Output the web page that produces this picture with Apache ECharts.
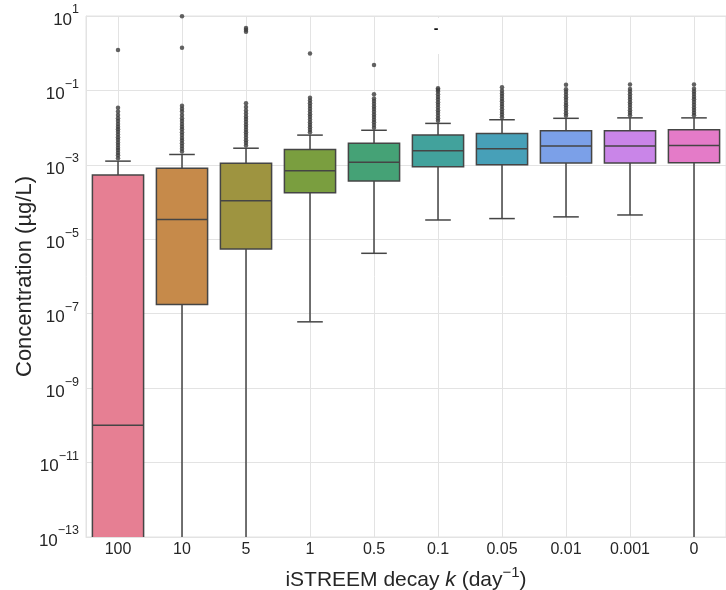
<!DOCTYPE html>
<html>
<head>
<meta charset="utf-8">
<script src="https://cdn.jsdelivr.net/npm/echarts@6/dist/echarts.min.js"></script>
<style>
  html, body { margin: 0; padding: 0; background: #fff; }
  #chart { width: 726px; height: 590px; }
</style>
</head>
<body>
<div id="chart"></div>
<script>
// Decay-rate scenarios (day^-1)
const categories = ['100', '10', '5', '1', '0.5', '0.1', '0.05', '0.01', '0.001', '0'];

// Box statistics per scenario, concentration in µg/L (values below 1e-13 run off the axis)
const whiskerLow  = [1e-16, 1e-16, 1e-16, 6.05e-8, 4.2e-6, 3.3e-5, 3.6e-5, 4.0e-5, 4.5e-5, 1e-16];
const quartile1   = [1e-15, 1.78e-7, 5.5e-6, 1.78e-4, 3.7e-4, 8.9e-4, 1.0e-3, 1.12e-3, 1.12e-3, 1.14e-3];
const medians     = [1e-10, 3.4e-5, 1.08e-4, 6.9e-4, 1.17e-3, 2.4e-3, 2.7e-3, 3.2e-3, 3.2e-3, 3.3e-3];
const quartile3   = [5.3e-4, 8.1e-4, 1.1e-3, 2.6e-3, 3.8e-3, 6.3e-3, 7.0e-3, 8.3e-3, 8.3e-3, 8.8e-3];
const whiskerHigh = [1.26e-3, 1.9e-3, 2.8e-3, 6.3e-3, 8.5e-3, 0.013, 0.0163, 0.0178, 0.0183, 0.0183];

// Outlying samples above the upper whisker
const outliers100  = [0.0015, 0.0018, 0.0021, 0.0025, 0.0029, 0.0034, 0.004, 0.0047, 0.0055, 0.0065, 0.0077, 0.009, 0.0105, 0.0125, 0.015, 0.018, 0.022, 0.027, 0.034, 1.22];
const outliers10   = [0.0023, 0.0027, 0.0032, 0.0038, 0.0045, 0.0053, 0.0063, 0.0075, 0.009, 0.0105, 0.0125, 0.015, 0.018, 0.022, 0.027, 0.032, 0.039, 1.4, 9.8];
const outliers5    = [0.0033, 0.0039, 0.0046, 0.0054, 0.0064, 0.0075, 0.0088, 0.0104, 0.0122, 0.0144, 0.017, 0.02, 0.024, 0.029, 0.036, 0.045, 3.8, 4.3, 4.75];
const outliers1    = [0.0075, 0.0088, 0.0103, 0.012, 0.014, 0.0165, 0.0195, 0.023, 0.027, 0.032, 0.038, 0.045, 0.054, 0.064, 0.99];
const outliers05   = [0.01, 0.0118, 0.0139, 0.0164, 0.0193, 0.0227, 0.0268, 0.0316, 0.0372, 0.044, 0.052, 0.061, 0.0785, 0.48];
const outliers01   = [0.0153, 0.018, 0.0212, 0.025, 0.0295, 0.0348, 0.041, 0.048, 0.057, 0.067, 0.079, 0.093, 0.105, 0.114];
const outliers005  = [0.019, 0.0225, 0.0265, 0.031, 0.037, 0.043, 0.051, 0.06, 0.071, 0.083, 0.098, 0.121];
const outliers001  = [0.021, 0.0245, 0.029, 0.034, 0.04, 0.047, 0.056, 0.066, 0.078, 0.092, 0.108, 0.142];
const outliers0001 = [0.0215, 0.025, 0.0295, 0.035, 0.041, 0.048, 0.057, 0.067, 0.079, 0.093, 0.11, 0.145];
const outliers0    = [0.0215, 0.0253, 0.0298, 0.035, 0.041, 0.049, 0.058, 0.068, 0.08, 0.094, 0.111, 0.145];

const boxColors = ['#e67f93', '#c68a4a', '#9e9440', '#7a9e3f', '#45a276',
                   '#42a29c', '#47a0b8', '#7ba0e8', '#c985e8', '#e47bc8'];

const outlierGroups = [outliers100, outliers10, outliers5, outliers1, outliers05,
                       outliers01, outliers005, outliers001, outliers0001, outliers0];

const FONT = '"Liberation Sans", Arial, sans-serif';
const EDGE = '#454545';
const GRID = '#e3e3e3';
const INK = '#262626';

const boxData = categories.map((c, i) =>
  [i, whiskerLow[i], quartile1[i], medians[i], quartile3[i], whiskerHigh[i]]);

const outlierData = [];
outlierGroups.forEach((arr, i) => arr.forEach(v => outlierData.push([i, v])));

function renderBox(params, api) {
  const i = api.value(0);
  const band = api.size([1, 0])[0];
  const boxW = band * 0.8;
  const capW = boxW * 0.5;
  const x = api.coord([i, 1])[0];
  const yLow = api.coord([i, api.value(1)])[1];
  const yQ1 = api.coord([i, api.value(2)])[1];
  const yMed = api.coord([i, api.value(3)])[1];
  const yQ3 = api.coord([i, api.value(4)])[1];
  const yHigh = api.coord([i, api.value(5)])[1];
  const lineStyle = { stroke: EDGE, lineWidth: 1.5, fill: null };
  return {
    type: 'group',
    children: [
      { type: 'line', shape: { x1: x, y1: yQ1, x2: x, y2: yLow }, style: lineStyle },
      { type: 'line', shape: { x1: x, y1: yQ3, x2: x, y2: yHigh }, style: lineStyle },
      { type: 'line', shape: { x1: x - capW / 2, y1: yLow, x2: x + capW / 2, y2: yLow }, style: lineStyle },
      { type: 'line', shape: { x1: x - capW / 2, y1: yHigh, x2: x + capW / 2, y2: yHigh }, style: lineStyle },
      { type: 'rect', shape: { x: x - boxW / 2, y: yQ3, width: boxW, height: yQ1 - yQ3 },
        style: { fill: boxColors[i], stroke: EDGE, lineWidth: 1.5 } },
      { type: 'line', shape: { x1: x - boxW / 2, y1: yMed, x2: x + boxW / 2, y2: yMed }, style: lineStyle }
    ]
  };
}

const chart = echarts.init(document.getElementById('chart'), null, { renderer: 'canvas' });

chart.setOption({
  animation: false,
  backgroundColor: '#ffffff',
  textStyle: { fontFamily: FONT },
  grid: {
    left: 86, top: 16, right: 0, bottom: 53,
    containLabel: false, outerBoundsMode: 'none',
    show: true, borderColor: GRID, borderWidth: 1
  },
  xAxis: {
    type: 'category',
    data: categories,
    boundaryGap: true,
    axisLine: { show: true, lineStyle: { color: GRID, width: 1 } },
    axisTick: { show: false },
    splitLine: { show: false },
    axisLabel: { fontFamily: FONT, fontSize: 16, color: INK, margin: 5 },
    name: '{n|iSTREEM decay }{i|k}{n| (day}{s|−1}{n|)}',
    nameLocation: 'middle',
    nameGap: 28,
    nameMoveOverlap: false,
    nameTextStyle: {
      rich: {
        n: { fontFamily: FONT, fontSize: 21, color: INK, verticalAlign: 'bottom', lineHeight: 26 },
        i: { fontFamily: FONT, fontSize: 21, fontStyle: 'italic', color: INK, verticalAlign: 'bottom', lineHeight: 26 },
        s: { fontFamily: FONT, fontSize: 15, color: INK, verticalAlign: 'top', lineHeight: 15 }
      }
    }
  },
  yAxis: {
    type: 'log',
    logBase: 10,
    min: 1e-13,
    max: 10,
    interval: 2,
    axisLine: { show: true, lineStyle: { color: GRID, width: 1 } },
    axisTick: { show: false },
    splitLine: { show: true, lineStyle: { color: GRID, width: 1 } },
    axisLabel: {
      margin: 7,
      formatter: function (v) {
        const e = Math.round(Math.log10(v));
        return '{b|10}{e|' + (e < 0 ? '−' + (-e) : String(e)) + '}';
      },
      rich: {
        b: { fontFamily: FONT, fontSize: 17, color: INK, verticalAlign: 'bottom', lineHeight: 25 },
        e: { fontFamily: FONT, fontSize: 12.5, color: INK, verticalAlign: 'top', lineHeight: 13 }
      }
    },
    name: 'Concentration (µg/L)',
    nameLocation: 'middle',
    nameRotate: 90,
    nameGap: 50,
    nameMoveOverlap: false,
    nameTextStyle: { fontFamily: FONT, fontSize: 22, color: INK }
  },
  series: [
    {
      // vertical grid lines at each scenario
      type: 'line',
      data: [],
      z: 1,
      silent: true,
      markLine: {
        z: 1,
        silent: true,
        symbol: ['none', 'none'],
        label: { show: false },
        lineStyle: { color: GRID, width: 1, type: 'solid' },
        data: categories.map(c => ({ xAxis: c }))
      }
    },
    {
      type: 'custom',
      renderItem: renderBox,
      data: boxData,
      encode: { x: 0, y: [1, 2, 3, 4, 5] },
      clip: true,
      z: 3,
      silent: true
    },
    {
      type: 'scatter',
      data: outlierData,
      symbol: 'circle',
      symbolSize: 4.5,
      itemStyle: { color: '#3c3c3c' },
      clip: true,
      z: 4,
      silent: true
    }
  ],
  graphic: [
    { type: 'rect', shape: { x: 433, y: 18, width: 10, height: 36 }, style: { fill: '#ffffff' }, z: 5 },
    { type: 'text', x: 436, y: 29, style: { text: '-', fontFamily: FONT, fontSize: 14, fontWeight: 'bold', fill: '#111', align: 'center', verticalAlign: 'middle' }, z: 6 }
  ]
});
</script>
</body>
</html>
